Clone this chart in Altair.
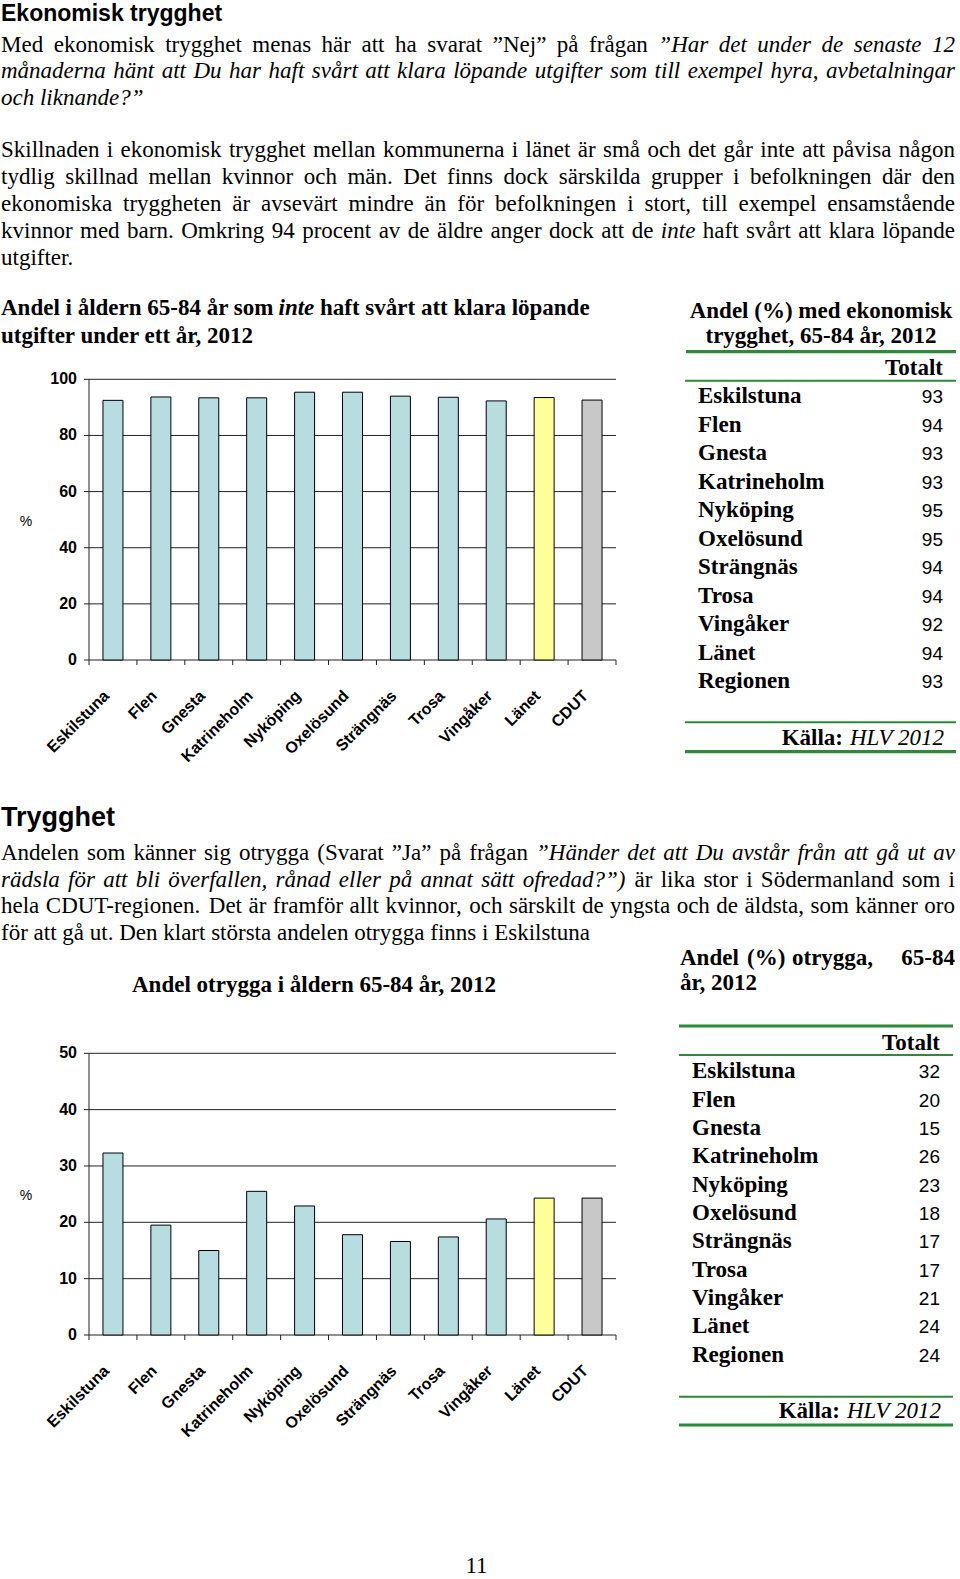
import altair as alt
import pandas as pd

# ---------------- data ----------------
CATS = ["Eskilstuna", "Flen", "Gnesta", "Katrineholm", "Nyköping", "Oxelösund",
        "Strängnäs", "Trosa", "Vingåker", "Länet", "CDUT"]
ECON_BARS = [92.5, 93.7, 93.4, 93.4, 95.4, 95.4, 94.0, 93.6, 92.3, 93.5, 92.6]
SAFE_BARS = [32.3, 19.5, 15.0, 25.5, 22.9, 17.8, 16.6, 17.4, 20.6, 24.3, 24.3]
ECON_TICKS = [0, 20, 40, 60, 80, 100]
SAFE_TICKS = [0, 10, 20, 30, 40, 50]

TABLE_ROWS = ["Eskilstuna", "Flen", "Gnesta", "Katrineholm", "Nyköping", "Oxelösund",
              "Strängnäs", "Trosa", "Vingåker", "Länet", "Regionen"]
ECON_TABLE = [93, 94, 93, 93, 95, 95, 94, 94, 92, 94, 93]
SAFE_TABLE = [32, 20, 15, 26, 23, 18, 17, 17, 21, 24, 24]

HEAD1 = "Ekonomisk trygghet"
HEAD2 = "Trygghet"
PARA1 = [
    [("Med ekonomisk trygghet menas här att ha svarat ”Nej” på frågan", "r"),
     ("”Har det under de senaste 12", "i")],
    [("månaderna hänt att Du har haft svårt att klara löpande utgifter som till exempel hyra, avbetalningar", "i")],
    [("och liknande?”", "i")],
]
PARA2 = [
    [("Skillnaden i ekonomisk trygghet mellan kommunerna i länet är små och det går inte att påvisa någon", "r")],
    [("tydlig skillnad mellan kvinnor och män. Det finns dock särskilda grupper i befolkningen där den", "r")],
    [("ekonomiska tryggheten är avsevärt mindre än för befolkningen i stort, till exempel ensamstående", "r")],
    [("kvinnor med barn. Omkring 94 procent av de äldre anger dock att de", "r"), ("inte", "i"),
     ("haft svårt att klara löpande", "r")],
    [("utgifter.", "r")],
]
PARA3 = [
    [("Andelen som känner sig otrygga (Svarat ”Ja” på frågan", "r"),
     ("”Händer det att Du avstår från att gå ut av", "i")],
    [("rädsla för att bli överfallen, rånad eller på annat sätt ofredad?”)", "i"),
     ("är lika stor i Södermanland som i", "r")],
    [("hela CDUT-regionen. Det är framför allt kvinnor, och särskilt de yngsta och de äldsta, som känner oro", "r")],
    [("för att gå ut. Den klart största andelen otrygga finns i Eskilstuna", "r")],
]
TITLE1_A = "Andel i åldern 65-84 år som"
TITLE1_B = "inte"
TITLE1_C = "haft svårt att klara löpande"
TITLE1_D = "utgifter under ett år, 2012"
TTITLE1_A = "Andel (%) med ekonomisk"
TTITLE1_B = "trygghet, 65-84 år, 2012"
TITLE2 = "Andel otrygga i åldern 65-84 år, 2012"
TTITLE2_WORDS = ["Andel", "(%)", "otrygga,", "65-84"]
TTITLE2_B = "år, 2012"
TOTAL = "Totalt"
SOURCE_A = "Källa:"
SOURCE_B = "HLV 2012"
YLABEL = "%"
PAGE = "11"

# ---------------- styles ----------------
SERIF = "Liberation Serif"
SANS = "Liberation Sans"
GREEN = "#2d8a38"
AXIS = "#222222"
BAR_COLORS = ["#b7dde1"] * 9 + ["#ffff99", "#c8c8c8"]

# Times-Roman / Times-Italic advance widths (per 1000 em) for justification
_R = {" ": 250, "(": 333, ")": 333, ",": 250, "-": 333, ".": 250, ":": 278, "?": 444, "”": 444}
_R.update({c: 500 for c in "0123456789"})
_R.update(dict(zip("ABCDEFGHIJKLMNOPQRSTUVWXYZÅÄÖ",
                   [722, 667, 667, 722, 611, 556, 722, 722, 333, 389, 722, 611, 889, 722, 722, 556,
                    722, 667, 556, 611, 722, 722, 944, 722, 722, 611, 722, 722, 722])))
_R.update(dict(zip("abcdefghijklmnopqrstuvwxyzåäö",
                   [444, 500, 444, 500, 444, 333, 500, 500, 278, 278, 500, 278, 778, 500, 500, 500,
                    500, 333, 389, 278, 500, 500, 722, 500, 500, 444, 444, 444, 500])))
_I = {" ": 250, "(": 333, ")": 333, ",": 250, "-": 333, ".": 250, ":": 333, "?": 500, "”": 556}
_I.update({c: 500 for c in "0123456789"})
_I.update(dict(zip("ABCDEFGHIJKLMNOPQRSTUVWXYZÅÄÖ",
                   [611, 611, 667, 722, 611, 611, 722, 722, 333, 444, 667, 556, 833, 667, 722, 611,
                    722, 611, 500, 556, 722, 611, 833, 611, 556, 556, 611, 611, 722])))
_I.update(dict(zip("abcdefghijklmnopqrstuvwxyzåäö",
                   [500, 500, 444, 500, 444, 278, 500, 500, 278, 278, 444, 278, 722, 500, 500, 500,
                    500, 389, 389, 278, 500, 444, 667, 444, 444, 389, 500, 500, 500])))

FS = 23
LEFT, RIGHT = 1, 955


def word_w(word, st):
    tab = _I if st == "i" else _R
    return sum(tab.get(c, 500) for c in word) * FS / 1000.0


def layout(par, y0, dy):
    rows = []
    n = len(par)
    for li, segs in enumerate(par):
        toks = []
        for text, st in segs:
            for w in text.split(" "):
                if w:
                    toks.append((w, st))
        widths = [word_w(w, st) for w, st in toks]
        justify = li < n - 1
        if justify and len(toks) > 1:
            gap = (RIGHT - LEFT - sum(widths)) / (len(toks) - 1)
        else:
            gap = 250 * FS / 1000.0
        x = LEFT
        for (w, st), wd in zip(toks, widths):
            rows.append(dict(x=x, y=y0 + li * dy, t=w, s=st))
            x += wd + gap
    return rows


para_rows = layout(PARA1, 51.5, 26.7) + layout(PARA2, 157.3, 26.9) + layout(PARA3, 860, 26.7)
para_df = pd.DataFrame(para_rows)

layers = []

# paragraph text
for st, fstyle in (("r", "normal"), ("i", "italic")):
    sub = para_df[para_df.s == st]
    layers.append(
        alt.Chart(sub).mark_text(align="left", baseline="alphabetic", font=SERIF, fontSize=FS,
                                 fontStyle=fstyle, color="black").encode(
            x=alt.X("x:Q", scale=None, axis=None),
            y=alt.Y("y:Q", scale=None, axis=None),
            text="t:N")
    )

# free-standing texts: (text, x, y, font, size, weight, style, align)
free = [
    (HEAD1, 1, 21, SANS, 23, "bold", "normal", "left"),
    (HEAD2, 1, 826, SANS, 27, "bold", "normal", "left"),
    (TITLE1_A, 1, 315, SERIF, 23, "bold", "normal", "left"),
    (TITLE1_B, 278.5, 315, SERIF, 23, "bold", "italic", "left"),
    (TITLE1_C, 320, 315, SERIF, 23, "bold", "normal", "left"),
    (TITLE1_D, 1, 343, SERIF, 23, "bold", "normal", "left"),
    (TTITLE1_A, 821, 318, SERIF, 23, "bold", "normal", "center"),
    (TTITLE1_B, 821, 343, SERIF, 23, "bold", "normal", "center"),
    (TOTAL, 943, 375, SERIF, 23, "bold", "normal", "right"),
    (SOURCE_A, 843, 745, SERIF, 23, "bold", "normal", "right"),
    (SOURCE_B, 850, 745, SERIF, 23, "normal", "italic", "left"),
    (TITLE2, 132, 991.5, SERIF, 23, "bold", "normal", "left"),
    (TTITLE2_WORDS[0], 680, 965, SERIF, 23, "bold", "normal", "left"),
    (TTITLE2_WORDS[1], 747, 965, SERIF, 23, "bold", "normal", "left"),
    (TTITLE2_WORDS[2], 792, 965, SERIF, 23, "bold", "normal", "left"),
    (TTITLE2_WORDS[3], 955, 965, SERIF, 23, "bold", "normal", "right"),
    (TTITLE2_B, 680, 990, SERIF, 23, "bold", "normal", "left"),
    (TOTAL, 940, 1050, SERIF, 23, "bold", "normal", "right"),
    (SOURCE_A, 840, 1418.3, SERIF, 23, "bold", "normal", "right"),
    (SOURCE_B, 847, 1418.3, SERIF, 23, "normal", "italic", "left"),
    (YLABEL, 26, 526, SANS, 14, "normal", "normal", "center"),
    (YLABEL, 26, 1200, SANS, 14, "normal", "normal", "center"),
    (PAGE, 476.5, 1573, SERIF, 23, "normal", "normal", "center"),
]
free_df = pd.DataFrame(free, columns=["t", "x", "y", "font", "size", "weight", "style", "align"])
for key, sub in free_df.groupby(["font", "size", "weight", "style", "align"]):
    font, size, weight, style, align = key
    layers.append(
        alt.Chart(sub[["t", "x", "y"]]).mark_text(
            align=align, baseline="alphabetic", font=font, fontSize=float(size),
            fontWeight=weight, fontStyle=style, color="black").encode(
            x=alt.X("x:Q", scale=None, axis=None),
            y=alt.Y("y:Q", scale=None, axis=None),
            text="t:N")
    )


# ---------------- bar charts ----------------
def bar_layers(values, ticks, ymax, y_zero, y_top, x0=89, x1=616):
    out = []
    yscale = alt.Scale(domain=[0, ymax], range=[y_zero, y_top], nice=False, zero=False)
    xband = alt.Scale(domain=CATS, range=[x0, x1], paddingInner=0.5825, paddingOuter=0.29125)
    tick_df = pd.DataFrame({"v": ticks})
    bar_df = pd.DataFrame({"cat": CATS, "val": values})
    k_df = pd.DataFrame({"k": list(range(len(CATS) + 1))})
    one = pd.DataFrame({"a": [0]})
    out.append(alt.Chart(tick_df).mark_rule(color=AXIS, strokeWidth=1).encode(
        y=alt.Y("v:Q", scale=yscale, axis=None), x=alt.value(x0 - 5), x2=alt.value(x1)))
    out.append(alt.Chart(one).mark_rule(color=AXIS, strokeWidth=1).encode(
        x=alt.value(x0), y=alt.value(y_top), y2=alt.value(y_zero)))
    out.append(alt.Chart(k_df).mark_rule(color=AXIS, strokeWidth=1).encode(
        x=alt.X("k:Q", scale=alt.Scale(domain=[0, len(CATS)], range=[x0, x1], nice=False, zero=False),
                axis=None),
        y=alt.value(y_zero), y2=alt.value(y_zero + 5)))
    out.append(alt.Chart(bar_df).mark_bar(stroke="black", strokeWidth=1, opacity=1).encode(
        x=alt.X("cat:N", scale=xband, axis=None),
        y=alt.Y("val:Q", scale=yscale, axis=None),
        color=alt.Color("cat:N", scale=alt.Scale(domain=CATS, range=BAR_COLORS), legend=None)))
    out.append(alt.Chart(tick_df).mark_text(align="right", baseline="middle", font=SANS,
                                            fontWeight="bold", fontSize=16, color="black").encode(
        y=alt.Y("v:Q", scale=yscale, axis=None), x=alt.value(77), text="v:Q"))
    out.append(alt.Chart(bar_df).mark_text(angle=315, align="right", baseline="middle", font=SANS,
                                           fontWeight="bold", fontSize=16, dx=-9, color="black").encode(
        x=alt.X("cat:N", scale=xband, axis=None), y=alt.value(y_zero + 27), text="cat:N"))
    return out


layers += bar_layers(ECON_BARS, ECON_TICKS, 100, 660, 379.3)
layers += bar_layers(SAFE_BARS, SAFE_TICKS, 50, 1335, 1053.3)


# ---------------- tables ----------------
def table_layers(vals, x_name, x_right, y_first, y_last):
    df = pd.DataFrame({"name": TABLE_ROWS, "val": vals, "i": list(range(len(TABLE_ROWS)))})
    ys = alt.Scale(domain=[0, len(TABLE_ROWS) - 1], range=[y_first, y_last], nice=False, zero=False)
    return [
        alt.Chart(df).mark_text(align="left", baseline="alphabetic", font=SERIF, fontSize=23,
                                fontWeight="bold", color="black").encode(
            x=alt.value(x_name), y=alt.Y("i:Q", scale=ys, axis=None), text="name:N"),
        alt.Chart(df).mark_text(align="right", baseline="alphabetic", font=SANS, fontSize=19,
                                color="black").encode(
            x=alt.value(x_right), y=alt.Y("i:Q", scale=ys, axis=None), text="val:Q"),
    ]


layers += table_layers(ECON_TABLE, 698, 943, 403.3, 688.3)
layers += table_layers(SAFE_TABLE, 692, 940, 1078.3, 1361.7)

green_lines = [
    (686, 956, 351.7, 3.2), (685, 956, 380.7, 2), (685, 956, 722.3, 2), (685, 956, 751.7, 3.2),
    (679, 953, 1026, 3.2), (679, 953, 1055, 2), (679, 953, 1396.7, 2), (679, 953, 1425, 3.2),
]
one_row = pd.DataFrame({"a": [0]})
for xa, xb, yy, w in green_lines:
    layers.append(alt.Chart(one_row).mark_rule(color=GREEN, strokeWidth=w).encode(
        x=alt.value(xa), x2=alt.value(xb), y=alt.value(yy)))

chart = alt.layer(*layers).resolve_scale(
    x="independent", y="independent", color="independent"
).properties(
    width=960, height=1579, padding=0, autosize="none", background="white"
).configure_view(stroke=None)

chart.save("out.html", embed_options={"renderer": "svg", "actions": False})
